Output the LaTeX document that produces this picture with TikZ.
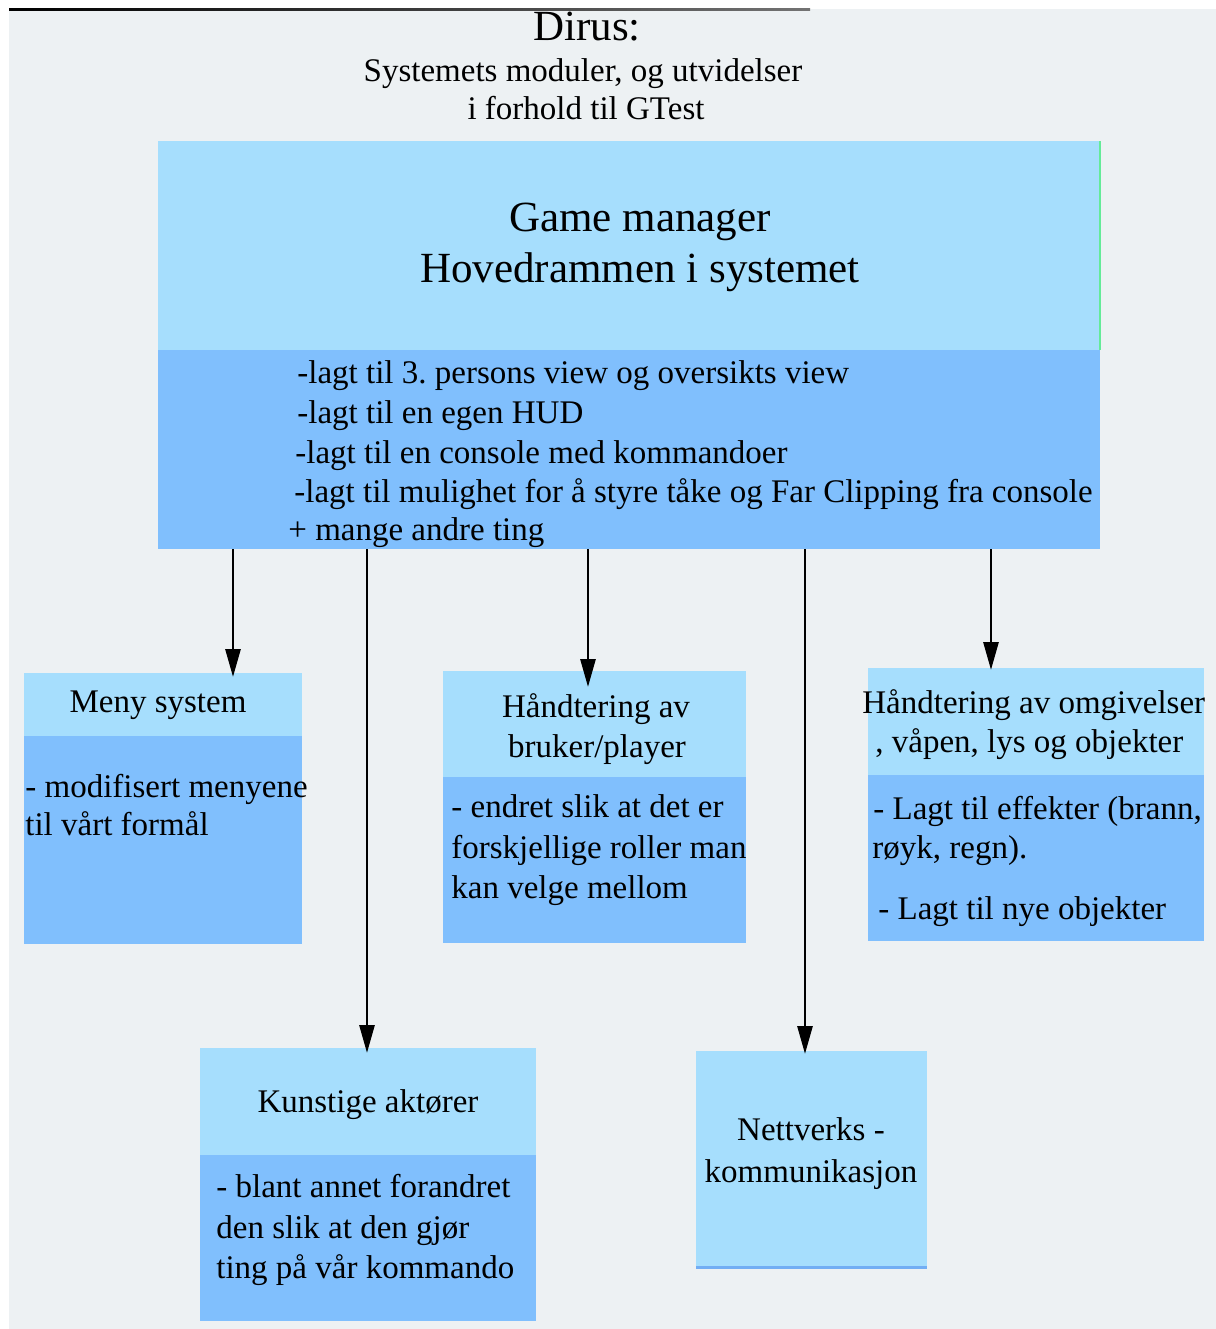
\documentclass[tikz,border=0pt]{standalone}
\usepackage{fontspec}
\setmainfont{Liberation Serif}
\usetikzlibrary{arrows.meta}
\frenchspacing
\definecolor{bgc}{HTML}{EDF1F3}
\definecolor{hdrc}{HTML}{A6DEFD}
\definecolor{bodyc}{HTML}{80BFFD}
\definecolor{edgec}{HTML}{72AEF4}
\tikzset{
  panel/.style={rectangle, inner sep=0pt, outer sep=0pt, anchor=north west},
  hdr/.style={panel, fill=hdrc},
  bdy/.style={panel, fill=bodyc},
  txt/.style={inner sep=0pt, font=\fontsize{16.5}{20}\selectfont},
  ltxt/.style={txt, anchor=base west},
  ctxt/.style={txt, anchor=base},
  bigtxt/.style={inner sep=0pt, anchor=base, font=\fontsize{21.5}{26}\selectfont},
  arr/.style={-{Triangle[length=14pt,width=7.5pt]}, line width=1.4pt}
}
\begin{document}
\begin{tikzpicture}[x=0.5pt,y=-0.5pt]
% canvas
\fill[white] (0,0) rectangle (1216,1329);
\fill[bgc] (9,9) rectangle (1216,1329);
\shade[left color=black, right color=black!55] (9,8.5) rectangle (810,10.5);
\useasboundingbox (0,0) rectangle (1216,1329);

% title
\node[bigtxt, font=\fontsize{21.5}{25}\selectfont] (t1) at (587,40) {Dirus:};
\node[ctxt] (t2) at (583,81) {Systemets moduler, og utvidelser};
\node[ctxt] (t3) at (586,119) {i forhold til GTest};

% main module
\node[hdr, minimum width=471pt, minimum height=104.5pt] (mainH) at (158,141) {};
\node[bdy, minimum width=471pt, minimum height=99.5pt] (mainB) at (158,350) {};
\draw[green!40!hdrc, line width=0.6pt] (mainH.north east) -- (mainH.south east);
\node[bigtxt] (m1) at (640,231) {Game manager};
\node[bigtxt] (m2) at (640,282) {Hovedrammen i systemet};
\node[ltxt] (m3) at (297,383) {-lagt til 3. persons view og oversikts view};
\node[ltxt] (m4) at (297,423) {-lagt til en egen HUD};
\node[ltxt] (m5) at (295,463) {-lagt til en console med kommandoer};
\node[ltxt] (m6) at (294,502) {-lagt til mulighet for å styre tåke og Far Clipping fra console};
\node[ltxt] (m7) at (288,540) {+ mange andre ting};

% menu system
\node[hdr, minimum width=139pt, minimum height=31.5pt] (menyH) at (24,673) {};
\node[bdy, minimum width=139pt, minimum height=104pt] (menyB) at (24,736) {};
\node[ctxt] (n1) at (158,712) {Meny system};
\node[ltxt] (n2) at (25,797) {- modifisert menyene};
\node[ltxt] (n3) at (25,835) {til vårt formål};

% user / player
\node[hdr, minimum width=151.5pt, minimum height=53pt] (brukH) at (443,671) {};
\node[bdy, minimum width=151.5pt, minimum height=83pt] (brukB) at (443,777) {};
\node[ctxt] (b1) at (596,717) {Håndtering av};
\node[ctxt] (b2) at (597,757) {bruker/player};
\node[ltxt] (b3) at (451,817) {- endret slik at det er};
\node[ltxt] (b4) at (451,858) {forskjellige roller man};
\node[ltxt] (b5) at (451,898) {kan velge mellom};

% surroundings
\node[hdr, minimum width=168pt, minimum height=53.5pt] (omgH) at (868,668) {};
\node[bdy, minimum width=168pt, minimum height=83pt] (omgB) at (868,775) {};
\node[ltxt] (o1) at (862,713) {Håndtering av omgivelser};
\node[ltxt] (o2) at (875,752) {, våpen, lys og objekter};
\node[ltxt] (o3) at (873,819) {- Lagt til effekter (brann,};
\node[ltxt] (o4) at (872,858) {røyk, regn).};
\node[ltxt] (o5) at (878,919) {- Lagt til nye objekter};

% artificial actors
\node[hdr, minimum width=168pt, minimum height=53.5pt] (kunH) at (200,1048) {};
\node[bdy, minimum width=168pt, minimum height=83pt] (kunB) at (200,1155) {};
\node[ctxt] (k1) at (368,1112) {Kunstige aktører};
\node[ltxt] (k2) at (216,1197) {- blant annet forandret};
\node[ltxt] (k3) at (216,1238) {den slik at den gjør};
\node[ltxt] (k4) at (216,1278) {ting på vår kommando};

% networking
\node[hdr, minimum width=115.5pt, minimum height=109pt] (netH) at (696,1051) {};
\draw[edgec, line width=1.5pt] ([yshift=0.75pt]netH.south west) -- ([yshift=0.75pt]netH.south east);
\node[ctxt] (w1) at (811,1140) {Nettverks -};
\node[ctxt] (w2) at (811,1182) {kommunikasjon};

% arrow ends
\coordinate (e1) at (233,677);
\coordinate (e2) at (367,1053);
\coordinate (e3) at (588,687);
\coordinate (e4) at (805,1054);
\coordinate (e5) at (991,670);

\draw[arr] (mainB.south -| e1) -- (e1);
\draw[arr] (mainB.south -| e2) -- (e2);
\draw[arr] (mainB.south -| e3) -- (e3);
\draw[arr] (mainB.south -| e4) -- (e4);
\draw[arr] (mainB.south -| e5) -- (e5);
\end{tikzpicture}
\end{document}
